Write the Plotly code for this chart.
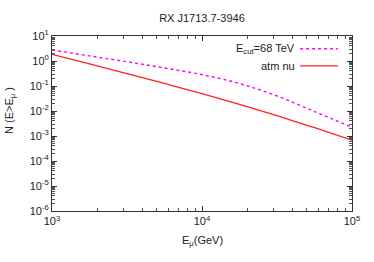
import plotly.graph_objects as go

# Data (energy in GeV, integrated counts)
energy = [1e3, 1.778e3, 3.162e3, 5.623e3, 1e4, 1.778e4, 3.162e4, 5.623e4, 1e5]
n_ecut68 = [2.75, 1.60, 0.93, 0.525, 0.285, 0.126, 0.040, 0.0095, 0.00224]
n_atm_nu = [1.86, 0.76, 0.31, 0.126, 0.050, 0.0186, 0.0065, 0.00214, 0.00068]

x_tickvals = [1e3, 1e4, 1e5]
x_ticktext = ["10<sup>3</sup>", "10<sup>4</sup>", "10<sup>5</sup>"]
y_tickvals = [1e-6, 1e-5, 1e-4, 1e-3, 1e-2, 1e-1, 1e0, 1e1]
y_ticktext = ["10<sup>-6</sup>", "10<sup>-5</sup>", "10<sup>-4</sup>", "10<sup>-3</sup>",
              "10<sup>-2</sup>", "10<sup>-1</sup>", "10<sup>0</sup>", "10<sup>1</sup>"]
x_minor = [m * 10 ** e for e in (3, 4) for m in range(2, 10)]
y_minor = [m * 10.0 ** e for e in range(-6, 1) for m in range(2, 10)]

FONT = "Liberation Sans, Arial, sans-serif"
MAGENTA = "#ff00ff"
RED = "#ff2020"

fig = go.Figure()
fig.add_trace(go.Scatter(x=energy, y=n_ecut68, mode="lines", name="E_cut=68 TeV",
                         line=dict(color=MAGENTA, width=1.4, dash="dot", shape="spline"),
                         showlegend=False))
fig.add_trace(go.Scatter(x=energy, y=n_atm_nu, mode="lines", name="atm nu",
                         line=dict(color=RED, width=1.3, shape="spline"), showlegend=False))

axis_common = dict(
    showgrid=False, zeroline=False, showline=True, linecolor="#333333", linewidth=1,
    ticks="inside", ticklen=5, tickcolor="#333333", mirror="allticks", automargin=False,
    tickfont=dict(family=FONT, size=11, color="#222222"),
)

fig.update_xaxes(type="log", range=[3, 5], tickvals=x_tickvals, ticktext=x_ticktext,
                 minor=dict(ticks="inside", ticklen=3, tickcolor="#555555", showgrid=False,
                            tickvals=x_minor),
                 **axis_common)
fig.update_yaxes(type="log", range=[-6, 1], tickvals=y_tickvals, ticktext=y_ticktext,
                 minor=dict(ticks="inside", ticklen=3, tickcolor="#555555", showgrid=False,
                            tickvals=y_minor),
                 **axis_common)

# Legend drawn gnuplot-style (text right, sample line after it)
fig.add_annotation(x=0.816, y=0.926, xref="paper", yref="paper", xanchor="right", yanchor="middle",
                   text="E<sub>cut</sub>=68 TeV", showarrow=False,
                   font=dict(family=FONT, size=11, color="#222222"))
fig.add_annotation(x=0.816, y=0.826, xref="paper", yref="paper", xanchor="right", yanchor="middle",
                   text="atm nu", showarrow=False,
                   font=dict(family=FONT, size=11, color="#222222"))
fig.add_shape(type="line", xref="paper", yref="paper", x0=0.827, x1=0.953, y0=0.927, y1=0.927,
              line=dict(color=MAGENTA, width=1.4, dash="dot"))
fig.add_shape(type="line", xref="paper", yref="paper", x0=0.827, x1=0.953, y0=0.829, y1=0.829,
              line=dict(color=RED, width=1.3))

# Axis titles
fig.add_annotation(x=0.5, y=-0.171, xref="paper", yref="paper", xanchor="center", yanchor="middle",
                   text="E<sub>μ</sub>(GeV)", showarrow=False,
                   font=dict(family=FONT, size=11, color="#222222"))
fig.add_annotation(x=-0.14, y=0.577, xref="paper", yref="paper", xanchor="center", yanchor="middle",
                   text="N (E>E<sub>μ</sub> )", textangle=-90, showarrow=False,
                   font=dict(family=FONT, size=11, color="#222222"))

fig.update_layout(
    width=374, height=262,
    margin=dict(l=52, r=22, t=36, b=51),
    paper_bgcolor="white", plot_bgcolor="white",
    title=dict(text="RX J1713.7-3946", x=0.54, xanchor="center", y=1 - 18 / 262, yanchor="middle",
               yref="container", font=dict(family=FONT, size=11, color="#222222")),
)

fig.write_html("out.html", config={"displayModeBar": False},
               post_script="document.body.style.margin='0px';")
